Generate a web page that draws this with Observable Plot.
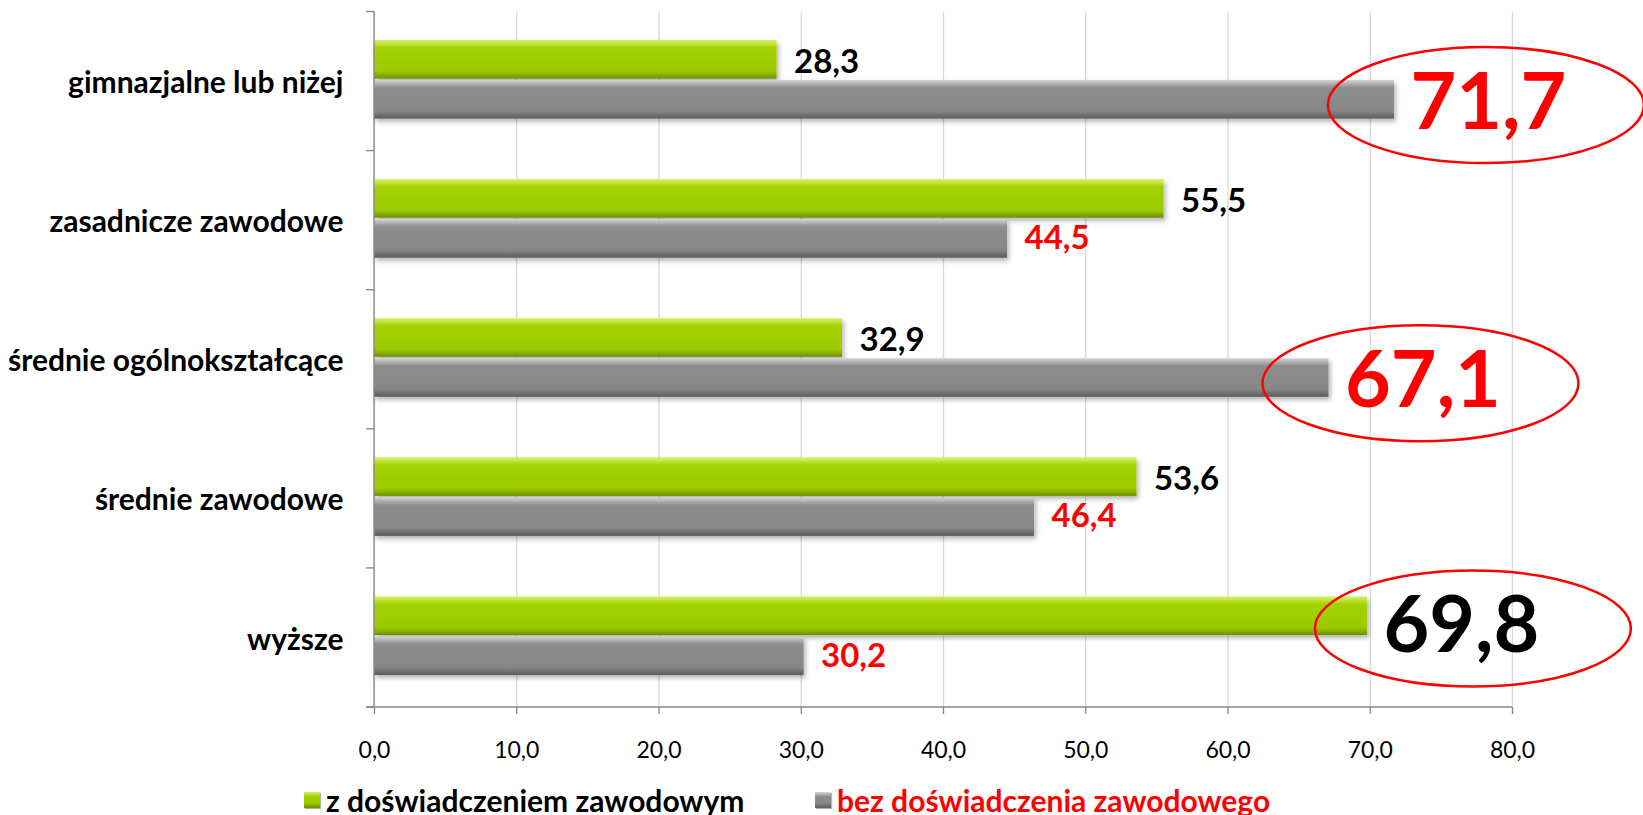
<!DOCTYPE html>
<html><head><meta charset="utf-8">
<script src="https://cdn.jsdelivr.net/npm/d3@7"></script>
<script src="https://cdn.jsdelivr.net/npm/@observablehq/plot@0.6"></script>
<style>
html,body{margin:0;padding:0;background:#fff;}
body{width:1643px;height:815px;overflow:hidden;position:relative;font-family:Lato,"Open Sans",sans-serif;}
#legend{position:absolute;left:0;top:772px;width:1643px;height:43px;}
.lg{position:absolute;top:12px;display:flex;align-items:center;font-weight:bold;font-size:30px;line-height:32px;white-space:nowrap;}
.sw{width:16px;height:16px;margin-right:6px;box-shadow:1px 1px 1px rgba(0,0,0,0.3);}
</style></head><body>
<div id="chart"></div>
<div id="legend"></div>
<script>
const categories = ["gimnazjalne lub niżej", "zasadnicze zawodowe", "średnie ogólnokształcące", "średnie zawodowe", "wyższe"];
const withExp = [28.3, 55.5, 32.9, 53.6, 69.8];
const withoutExp = [71.7, 44.5, 67.1, 46.4, 30.2];
const seriesNames = ["z doświadczeniem zawodowym", "bez doświadczenia zawodowego"];
const highlighted = [["gimnazjalne lub niżej", 1], ["średnie ogólnokształcące", 1], ["wyższe", 0]];
const xTicks = [0, 10, 20, 30, 40, 50, 60, 70, 80];

const fmt = v => v.toFixed(1).replace(".", ",");
const rows = [];
categories.forEach((c, i) => {
  rows.push({category: c, series: 0, value: withExp[i]});
  rows.push({category: c, series: 1, value: withoutExp[i]});
});
const isBig = d => highlighted.some(([c, s]) => c === d.category && s === d.series);
const green = rows.filter(d => d.series === 0);
const gray = rows.filter(d => d.series === 1);

const W = 1643, H = 772;
const plot = Plot.plot({
  width: W, height: H,
  marginLeft: 374, marginRight: 131, marginTop: 11.5, marginBottom: 65,
  style: {fontFamily: "Lato, 'Open Sans', sans-serif", background: "white", color: "black"},
  x: {domain: [0, 80], label: null},
  y: {domain: categories, padding: 0, round: false, label: null},
  marks: [
    Plot.gridX(xTicks, {stroke: "#d9d9d9", strokeOpacity: 1, strokeWidth: 1.3}),
    Plot.barX(green, {x: "value", y: "category", fill: "url(#gGreen)", insetTop: 28.5, insetBottom: 72}),
    Plot.barX(gray, {x: "value", y: "category", fill: "url(#gGray)", insetTop: 68.5, insetBottom: 32}),
    Plot.text(green.filter(d => !isBig(d)), {x: "value", y: "category", text: d => fmt(d.value), dx: 17, dy: -19, textAnchor: "start", fill: "black", fontWeight: "bold", fontSize: 33}),
    Plot.text(gray.filter(d => !isBig(d)), {x: "value", y: "category", text: d => fmt(d.value), dx: 17, dy: 18, textAnchor: "start", fill: "#ff0000", fontWeight: "bold", fontSize: 33}),
    Plot.text(gray.filter(isBig), {x: "value", y: "category", text: d => fmt(d.value), dx: 16, dy: 22, textAnchor: "start", fill: "#ff0000", fontWeight: "bold", fontSize: 79}),
    Plot.text(green.filter(isBig), {x: "value", y: "category", text: d => fmt(d.value), dx: 16, dy: -11, textAnchor: "start", fill: "black", fontWeight: "bold", fontSize: 79}),
    Plot.axisX({ticks: xTicks, tickFormat: fmt, tickSize: 7, tickPadding: 27, stroke: "#868686", strokeWidth: 1.3, fontSize: 23, fill: "black", label: null}),
    Plot.axisY({tickSize: 0, tickPadding: 31, fontSize: 30, fontWeight: "bold", fill: "black", dy: 2, label: null})
  ]
});
document.getElementById("chart").appendChild(plot);

const svg = d3.select(plot);
const defs = svg.insert("defs", ":first-child");
function grad(id, stops) {
  const g = defs.append("linearGradient").attr("id", id).attr("x1", 0).attr("y1", 0).attr("x2", 0).attr("y2", 1);
  stops.forEach(([o, c]) => g.append("stop").attr("offset", o).attr("stop-color", c));
}
grad("gGreen", [[0, "#d6f06a"], [0.1, "#c0e43a"], [0.2, "#a2d200"], [0.8, "#9bcb00"], [0.9, "#86b000"], [1, "#6c8e00"]]);
grad("gGray", [[0, "#d4d4d4"], [0.1, "#b0b0b0"], [0.2, "#8d8d8d"], [0.8, "#878787"], [0.9, "#707070"], [1, "#5c5c5c"]]);
const f = defs.append("filter").attr("id", "shadow").attr("x", "-5%").attr("y", "-30%").attr("width", "115%").attr("height", "180%");
f.append("feDropShadow").attr("dx", 2).attr("dy", 3).attr("stdDeviation", 2.5).attr("flood-color", "#000").attr("flood-opacity", 0.3);
svg.selectAll('g[aria-label="bar"]').attr("filter", "url(#shadow)");

const xs = plot.scale("x"), ys = plot.scale("y");
const x0 = xs.apply(0), x1 = xs.apply(80);
const [yTop, yBot] = ys.range;
const step = ys.step;
const deco = svg.append("g").attr("stroke", "#868686").attr("stroke-width", 1.3).attr("fill", "none");
deco.append("line").attr("x1", x0).attr("x2", x0).attr("y1", yTop).attr("y2", yBot);
deco.append("line").attr("x1", x0 - 8).attr("x2", x1).attr("y1", yBot).attr("y2", yBot);
for (let i = 0; i <= categories.length; i++) {
  const yy = yTop + i * step;
  deco.append("line").attr("x1", x0 - 8).attr("x2", x0).attr("y1", yy).attr("y2", yy);
}

// ellipses around highlighted labels
const ctx = document.createElement("canvas").getContext("2d");
ctx.font = "bold 79px Lato";
const ell = svg.append("g").attr("stroke", "#ff0000").attr("stroke-width", 2.5).attr("fill", "none");
highlighted.forEach(([c, s]) => {
  const v = s === 0 ? withExp[categories.indexOf(c)] : withoutExp[categories.indexOf(c)];
  const w = ctx.measureText(fmt(v)).width;
  const cx = xs.apply(v) + 16 + w / 2 + (s === 0 ? 12 : -2);
  const cy = ys.apply(c) + ys.bandwidth / 2 + (s === 1 ? 22 : -11) + 2;
  ell.append("ellipse").attr("cx", cx).attr("cy", cy).attr("rx", 158).attr("ry", 58);
});

// legend
const lg = d3.select("#legend");
const items = [
  {name: seriesNames[0], left: 304, sw: "linear-gradient(#d6f06a,#a2d200 30%,#9bcb00 70%,#6c8e00)", color: "black"},
  {name: seriesNames[1], left: 815, sw: "linear-gradient(#d4d4d4,#8d8d8d 30%,#878787 70%,#5c5c5c)", color: "#ff0000"}
];
items.forEach(it => {
  const d = lg.append("div").attr("class", "lg").style("left", it.left + "px").style("color", it.color);
  d.append("div").attr("class", "sw").style("background", it.sw);
  d.append("span").text(it.name);
});
</script>
</body></html>
